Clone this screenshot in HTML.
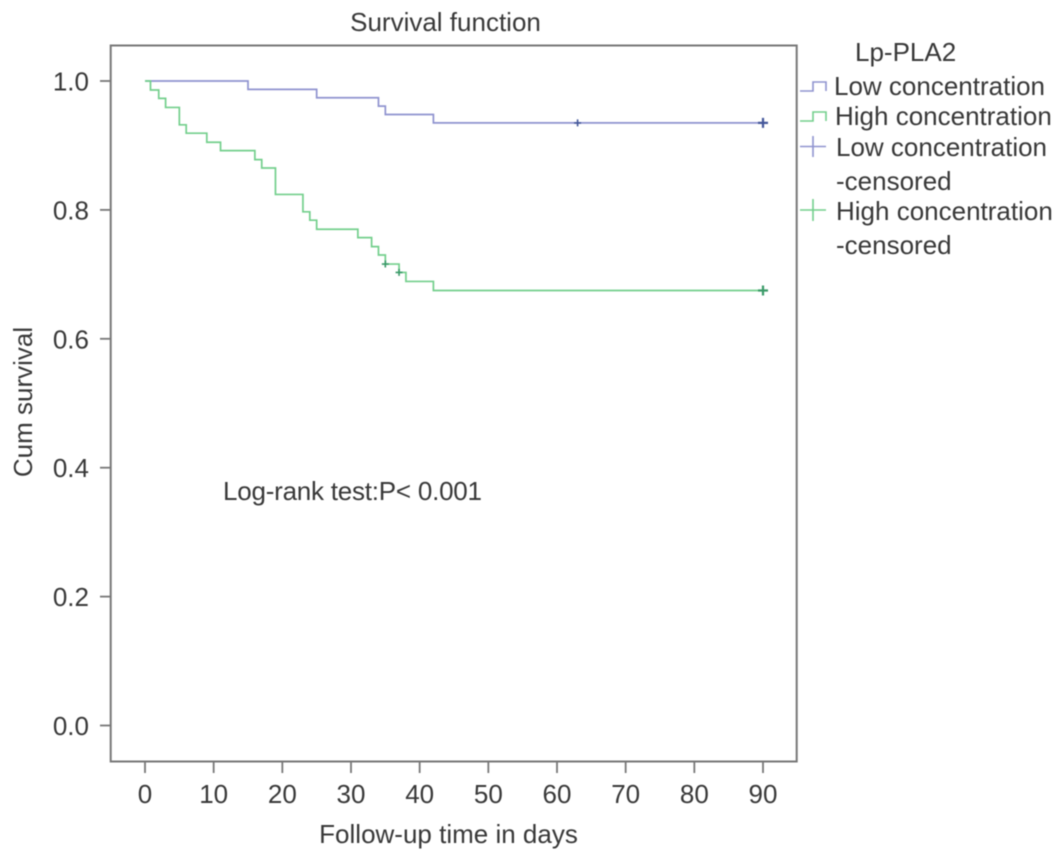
<!DOCTYPE html>
<html lang="en">
<head>
<meta charset="utf-8">
<title>Survival function</title>
<style>
html,body{margin:0;padding:0;background:#fff;}
svg{display:block;filter:blur(0.5px);}
text{font-family:"Liberation Sans",Arial,sans-serif;font-size:26px;fill:#383838;}
</style>
</head>
<body>
<svg id="chart" xmlns="http://www.w3.org/2000/svg" width="1063" height="861" viewBox="0 0 1063 861">
  <rect x="110.7" y="45.5" width="686" height="716" fill="#fff" stroke="#777" stroke-width="2"/>
  <g id="axes"></g>
  <g id="series"></g>
  <text x="445.5" y="31" text-anchor="middle">Survival function</text>
  <text transform="translate(32,402) rotate(-90)" text-anchor="middle">Cum survival</text>
  <text x="448.5" y="843" text-anchor="middle">Follow-up time in days</text>
  <text x="223" y="500" textLength="259" lengthAdjust="spacing">Log-rank test:P&lt; 0.001</text>

  <g>
    <text x="855" y="61">Lp-PLA2</text>
    <path d="M800 91H813V82H826V91" fill="none" stroke="#8f93cf" stroke-width="1.6"/>
    <text x="834" y="95">Low concentration</text>
    <path d="M800 121H813V112H826V121" fill="none" stroke="#73cf8c" stroke-width="1.6"/>
    <text x="835" y="125">High concentration</text>
    <path d="M800 146.500H826M813 136V157" fill="none" stroke="#8f93cf" stroke-width="1.6"/>
    <text x="836" y="156">Low concentration</text>
    <text x="836" y="190">-censored</text>
    <path d="M800 210H826M813 199V221" fill="none" stroke="#73cf8c" stroke-width="1.6"/>
    <text x="836" y="220">High concentration</text>
    <text x="836" y="254">-censored</text>
  </g>
</svg>
<script>
const xTicks = [0, 10, 20, 30, 40, 50, 60, 70, 80, 90];
const yTicks = [0.0, 0.2, 0.4, 0.6, 0.8, 1.0];

const lowDays = [0, 15, 25, 34, 35, 42, 90];
const lowSurvival = [1.0, 0.987, 0.974, 0.961, 0.948, 0.935, 0.935];
const lowCensoredDays = [63, 90];
const lowCensoredSurvival = [0.935, 0.935];

const highDays = [0, 0.8, 2, 3, 5, 6, 9, 11, 16, 17, 19, 23, 24, 25, 31, 33, 34, 35, 37, 38, 42, 90];
const highSurvival = [1.0, 0.986, 0.973, 0.959, 0.932, 0.919, 0.905, 0.892, 0.878, 0.865, 0.824, 0.797, 0.784, 0.770, 0.757, 0.743, 0.730, 0.716, 0.703, 0.689, 0.675, 0.675];
const highCensoredDays = [35, 37, 90];
const highCensoredSurvival = [0.716, 0.703, 0.675];

const SVG_NS = 'http://www.w3.org/2000/svg';
const xScale = function (d) { return 145 + d * (763 - 145) / 90; };
const yScale = function (s) { return 725.5 - s * (725.5 - 81) / 1; };

const axes = document.getElementById('axes');
const series = document.getElementById('series');

xTicks.forEach(function (t) {
  const line = document.createElementNS(SVG_NS, 'line');
  
  
  line.setAttribute('x1', xScale(t));
  line.setAttribute('x2', xScale(t));
  line.setAttribute('y1', 762);
  line.setAttribute('y2', 773);
  line.setAttribute('stroke', '#777');
  line.setAttribute('stroke-width', 1.8);
  axes.appendChild(line);
  const label = document.createElementNS(SVG_NS, 'text');
  
  
  label.setAttribute('x', xScale(t));
  label.setAttribute('y', 803);
  label.setAttribute('text-anchor', 'middle');
  label.textContent = String(t);
  axes.appendChild(label);
});

yTicks.forEach(function (t) {
  const line = document.createElementNS(SVG_NS, 'line');
  
  
  line.setAttribute('x1', 100);
  line.setAttribute('x2', 110);
  line.setAttribute('y1', yScale(t));
  line.setAttribute('y2', yScale(t));
  line.setAttribute('stroke', '#777');
  line.setAttribute('stroke-width', 1.8);
  axes.appendChild(line);
  const label = document.createElementNS(SVG_NS, 'text');
  
  
  label.setAttribute('x', 89);
  label.setAttribute('y', yScale(t) + 9.5);
  label.setAttribute('text-anchor', 'end');
  label.textContent = t.toFixed(1);
  axes.appendChild(label);
});

function stepPath(days, surv) {
  let d = 'M' + xScale(days[0]) + ' ' + yScale(surv[0]);
  for (let i = 1; i < days.length; i++) {
    d += 'H' + xScale(days[i]) + 'V' + yScale(surv[i]);
  }
  return d;
}

const lowLine = document.createElementNS(SVG_NS, 'path');


lowLine.setAttribute('d', stepPath(lowDays, lowSurvival));
lowLine.setAttribute('fill', 'none');
lowLine.setAttribute('stroke', '#8f93cf');
lowLine.setAttribute('stroke-width', 1.7);
series.appendChild(lowLine);

const highLine = document.createElementNS(SVG_NS, 'path');


highLine.setAttribute('d', stepPath(highDays, highSurvival));
highLine.setAttribute('fill', 'none');
highLine.setAttribute('stroke', '#73cf8c');
highLine.setAttribute('stroke-width', 1.7);
series.appendChild(highLine);

lowCensoredDays.forEach(function (d, i) {
  const mark = document.createElementNS(SVG_NS, 'path');
  const x = xScale(d);
  const y = yScale(lowCensoredSurvival[i]);
  const r = d === 90 ? 5 : 3.5;
  
  
  mark.setAttribute('d', 'M' + (x - r) + ' ' + y + 'H' + (x + r) + 'M' + x + ' ' + (y - r) + 'V' + (y + r));
  mark.setAttribute('fill', 'none');
  mark.setAttribute('stroke', '#44579a');
  mark.setAttribute('stroke-width', d === 90 ? 2.2 : 1.6);
  series.appendChild(mark);
});

highCensoredDays.forEach(function (d, i) {
  const mark = document.createElementNS(SVG_NS, 'path');
  const x = xScale(d);
  const y = yScale(highCensoredSurvival[i]);
  const r = d === 90 ? 5 : 3.5;
  
  
  mark.setAttribute('d', 'M' + (x - r) + ' ' + y + 'H' + (x + r) + 'M' + x + ' ' + (y - r) + 'V' + (y + r));
  mark.setAttribute('fill', 'none');
  mark.setAttribute('stroke', '#3a9a68');
  mark.setAttribute('stroke-width', d === 90 ? 2.2 : 1.6);
  series.appendChild(mark);
});
</script>
</body>
</html>
